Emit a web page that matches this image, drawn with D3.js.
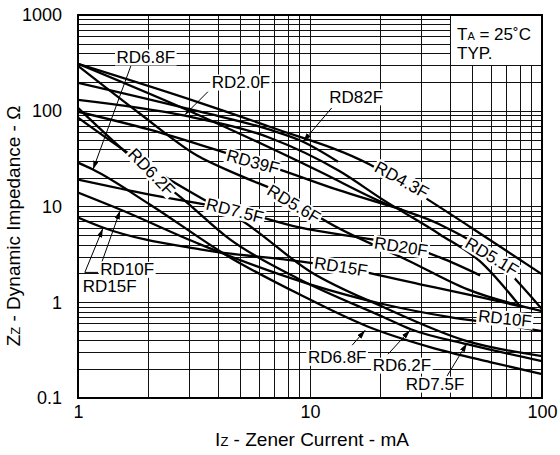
<!DOCTYPE html>
<html><head><meta charset="utf-8">
<script src="https://cdn.jsdelivr.net/npm/d3@7"></script>
<style>
body{margin:0;background:#fff;}
text{font-family:"Liberation Sans",Arial,Helvetica,sans-serif;fill:#000;}
</style></head><body>
<svg id="c" width="560" height="455"></svg>
<script>
// ---------- data ----------
const xTicks = [1, 10, 100];
const xTickLabels = ["1", "10", "100"];
const yTicks = [0.1, 1, 10, 100, 1000];
const yTickLabels = ["0.1", "1", "10", "100", "1000"];

// Zener current (mA) and dynamic impedance (ohm) per device
const iz_RD2_0F = [1, 2.89, 6.7, 13.5, 20.6, 36.3, 54.1, 80.4];
const zz_RD2_0F = [130, 88.7, 52.3, 23.2, 11.8, 5.11, 2.67, 0.909];
const iz_RD4_3F = [1, 3.36, 6.7, 18.1, 29.8, 49.4, 100];
const zz_RD4_3F = [309, 121, 68.1, 27.4, 13.3, 6.04, 1.96];
const iz_RD5_1F = [1, 3.36, 11, 20.6, 36.3, 59.7, 100];
const zz_RD5_1F = [309, 88.7, 23.2, 11, 6.49, 3.16, 0.845];
const iz_RD5_6F = [1, 1.85, 3.26, 5, 8.2, 11.4, 27, 47.5, 100];
const zz_RD5_6F = [294, 93, 34, 21, 12.4, 7.3, 2.67, 1.37, 0.806];
const iz_RD6_2F = [1, 1.56, 2.08, 2.75, 4.52, 9, 20.8, 27.2, 47.5, 100];
const zz_RD6_2F = [107, 39.2, 21.5, 12.7, 4.53, 1.74, 0.698, 0.523, 0.365, 0.243];
const iz_RD6_8F = [1, 1.16, 2.04, 4.52, 9, 17.6, 32.9, 59.7, 100];
const zz_RD6_8F = [28.7, 24.3, 10.5, 2.94, 1.21, 0.562, 0.34, 0.237, 0.178];
const iz_RD7_5F = [1, 2.04, 3.36, 5, 10, 20.8, 47.5, 100];
const zz_RD7_5F = [84.6, 25.5, 12.4, 7.3, 2.1, 0.887, 0.393, 0.274];
const iz_RD10F = [1, 1.52, 3.36, 10, 20.8, 40.1, 70.6, 100];
const zz_RD10F = [14, 9.3, 4.02, 1.54, 0.953, 0.698, 0.576, 0.499];
const iz_RD15F = [1, 1.28, 3.36, 9, 13.5, 29.8, 54.1, 80.4];
const zz_RD15F = [7.68, 6.04, 3.56, 2.67, 2.31, 1.54, 1.13, 0.909];
const iz_RD20F = [1, 2.04, 5, 9, 18.5, 25.7, 36.3, 54.1];
const zz_RD20F = [19.1, 13.3, 8.87, 6.04, 4.53, 3.92, 2.94, 1.91];
const iz_RD39F = [1, 2.04, 4.17, 7.4, 13.1, 24.9];
const zz_RD39F = [97.7, 63.4, 37.4, 24.3, 15, 9.3];
const iz_RD82F = [1, 3.36, 6.7, 9.33, 13.2];
const zz_RD82F = [196, 97.7, 63.4, 47.5, 29.4];

const seriesNames = ["RD2.0F","RD4.3F","RD5.1F","RD5.6F","RD6.2F","RD6.8F","RD7.5F","RD10F","RD15F","RD20F","RD39F","RD82F"];
const seriesI = [iz_RD2_0F, iz_RD4_3F, iz_RD5_1F, iz_RD5_6F, iz_RD6_2F, iz_RD6_8F, iz_RD7_5F, iz_RD10F, iz_RD15F, iz_RD20F, iz_RD39F, iz_RD82F];
const seriesZ = [zz_RD2_0F, zz_RD4_3F, zz_RD5_1F, zz_RD5_6F, zz_RD6_2F, zz_RD6_8F, zz_RD7_5F, zz_RD10F, zz_RD15F, zz_RD20F, zz_RD39F, zz_RD82F];

// curve labels: text, current, impedance (anchor in data units), angle
const labelText = ["RD6.8F","RD2.0F","RD82F","RD4.3F","RD5.1F","RD5.6F","RD6.2F","RD39F","RD7.5F","RD20F","RD15F","RD10F","RD10F","RD15F","RD6.8F","RD6.2F","RD7.5F"];
const labelI    = [1.96, 5.04, 15.8, 24.9, 60.9, 8.53, 2.08, 5.68, 4.75, 24.7, 13.6, 69.3, 1.63, 1.37, 13.1, 24.9, 34.6];
const labelZ    = [365, 200, 140, 19.1, 3.01, 10.7, 23.1, 29.4, 9.09, 3.83, 2.37, 0.681, 2.21, 1.47, 0.267, 0.221, 0.14];
const labelAngle= [0, 0, 0, 29, 31, 31, 46, 15, 14, 9, 9, 6, 0, 0, 0, 0, 0];

// leader arrows: from (I,Z) to (I,Z)
const arrowFromI = [1.69, 3.63, 12.4, 1.27, 1.07, 15.2, 21.7, 39];
const arrowFromZ = [294, 158, 107, 2.67, 2.05, 0.356, 0.287, 0.17];
const arrowToI   = [1.16, 2.89, 9.33, 1.52, 1.28, 17.3, 27, 47.5];
const arrowToZ   = [24.3, 90.9, 47.5, 9.09, 5.9, 0.511, 0.511, 0.374];

// ---------- layout ----------
const svg = d3.select("#c");
const L = 78, R = 542, T = 15, B = 398;
const x = d3.scaleLog().domain([1, 100]).range([L, R]);
const y = d3.scaleLog().domain([0.1, 1000]).range([B, T]);
const px = v => Math.round(x(v)) + 0.5;
const py = v => Math.round(y(v)) + 0.5;

svg.append("rect").attr("width", 560).attr("height", 455).attr("fill", "#fff");

// grid
const xGrid = [], yGrid = [];
[1, 10].forEach(d => { for (let k = 1; k <= 9; k++) xGrid.push(d * k); });
xGrid.push(100);
[0.1, 1, 10, 100].forEach(d => { for (let k = 1; k <= 9; k++) yGrid.push(+(d * k).toPrecision(3)); });
yGrid.push(1000);

const grid = svg.append("g").attr("stroke", "#111").attr("stroke-width", 1).attr("shape-rendering", "crispEdges");
grid.selectAll("line.v").data(xGrid).join("line").attr("class", "v")
  .attr("x1", d => px(d)).attr("x2", d => px(d)).attr("y1", T).attr("y2", B);
grid.selectAll("line.h").data(yGrid).join("line").attr("class", "h")
  .attr("x1", L).attr("x2", R).attr("y1", d => py(d)).attr("y2", d => py(d));

// condition box (white area top right)
svg.append("rect").attr("x", px(40) + 0.5).attr("y", T).attr("width", R - px(40) - 0.5).attr("height", py(300) - T - 0.5).attr("fill", "#fff");

// curves
svg.append("clipPath").attr("id", "clip").append("rect").attr("x", L).attr("y", T).attr("width", R - L).attr("height", B - T);
const line = d3.line().x(d => x(d[0])).y(d => y(d[1])).curve(d3.curveMonotoneX);
svg.append("g").attr("clip-path", "url(#clip)")
  .selectAll("path").data(seriesNames.map((n, i) => seriesI[i].map((v, j) => [v, seriesZ[i][j]])))
  .join("path").attr("d", line).attr("fill", "none").attr("stroke", "#000").attr("stroke-width", 2.3)
  .attr("stroke-linejoin", "round");

// arrows
const defs = svg.append("defs");
defs.append("marker").attr("id", "ah").attr("viewBox", "0 0 10 6").attr("refX", 10).attr("refY", 3)
  .attr("markerWidth", 9).attr("markerHeight", 5.5).attr("markerUnits", "userSpaceOnUse").attr("orient", "auto")
  .append("path").attr("d", "M0,0L10,3L0,6Z").attr("fill", "#000");

// labels
const lg = svg.append("g");
labelText.forEach((t, i) => {
  const g = lg.append("g").attr("transform", `translate(${x(labelI[i])},${y(labelZ[i])}) rotate(${labelAngle[i]})`);
  const r = g.append("rect").attr("fill", "#fff");
  const tx = g.append("text").attr("text-anchor", "middle").attr("dy", "0.36em").attr("font-size", 17).text(t);
  const bb = tx.node().getBBox();
  r.attr("x", bb.x - 1.5).attr("y", bb.y + 1.5).attr("width", bb.width + 3).attr("height", bb.height - 3);
});
// dash before RD10F (left)
svg.append("line").attr("x1", x(1.07)).attr("x2", x(1.22)).attr("y1", y(2.05)).attr("y2", y(2.05)).attr("stroke", "#000").attr("stroke-width", 1);
svg.append("g").selectAll("line").data(arrowFromI).join("line")
  .attr("x1", (d, i) => x(arrowFromI[i])).attr("y1", (d, i) => y(arrowFromZ[i]))
  .attr("x2", (d, i) => x(arrowToI[i])).attr("y2", (d, i) => y(arrowToZ[i]))
  .attr("stroke", "#000").attr("stroke-width", 1).attr("marker-end", "url(#ah)");

// condition text
const ct = svg.append("text").attr("x", 457).attr("y", 39.5).attr("font-size", 17);
ct.append("tspan").text("T");
ct.append("tspan").attr("font-size", 11).text("A");
ct.append("tspan").text(" = 25˚C");
svg.append("text").attr("x", 457).attr("y", 59).attr("font-size", 17).text("TYP.");

// frame
svg.append("rect").attr("x", L).attr("y", T).attr("width", R - L).attr("height", B - T)
  .attr("fill", "none").attr("stroke", "#000").attr("stroke-width", 2);

// axes (tick labels only)
const xa = svg.append("g").attr("transform", `translate(0,${B + 3})`)
  .call(d3.axisBottom(x).tickValues(xTicks).tickFormat((d, i) => xTickLabels[i]).tickSize(0).tickPadding(4));
const ya = svg.append("g").attr("transform", `translate(${L - 3},0)`)
  .call(d3.axisLeft(y).tickValues(yTicks).tickFormat((d, i) => yTickLabels[i]).tickSize(0).tickPadding(13));
[xa, ya].forEach(a => { a.select(".domain").remove(); a.selectAll("text").attr("font-size", 18).attr("font-family", '"Liberation Sans",Arial,sans-serif'); });

// titles
const xt = svg.append("text").attr("x", 312).attr("y", 446).attr("text-anchor", "middle").attr("font-size", 19);
xt.append("tspan").text("I");
xt.append("tspan").attr("font-size", 13).text("Z");
xt.append("tspan").text(" - Zener Current - mA");
const yt = svg.append("text").attr("transform", `translate(20,226) rotate(-90)`).attr("text-anchor", "middle").attr("font-size", 19);
yt.append("tspan").text("Z");
yt.append("tspan").attr("font-size", 13).text("Z");
yt.append("tspan").text(" - Dynamic Impedance - Ω");
</script></body></html>
